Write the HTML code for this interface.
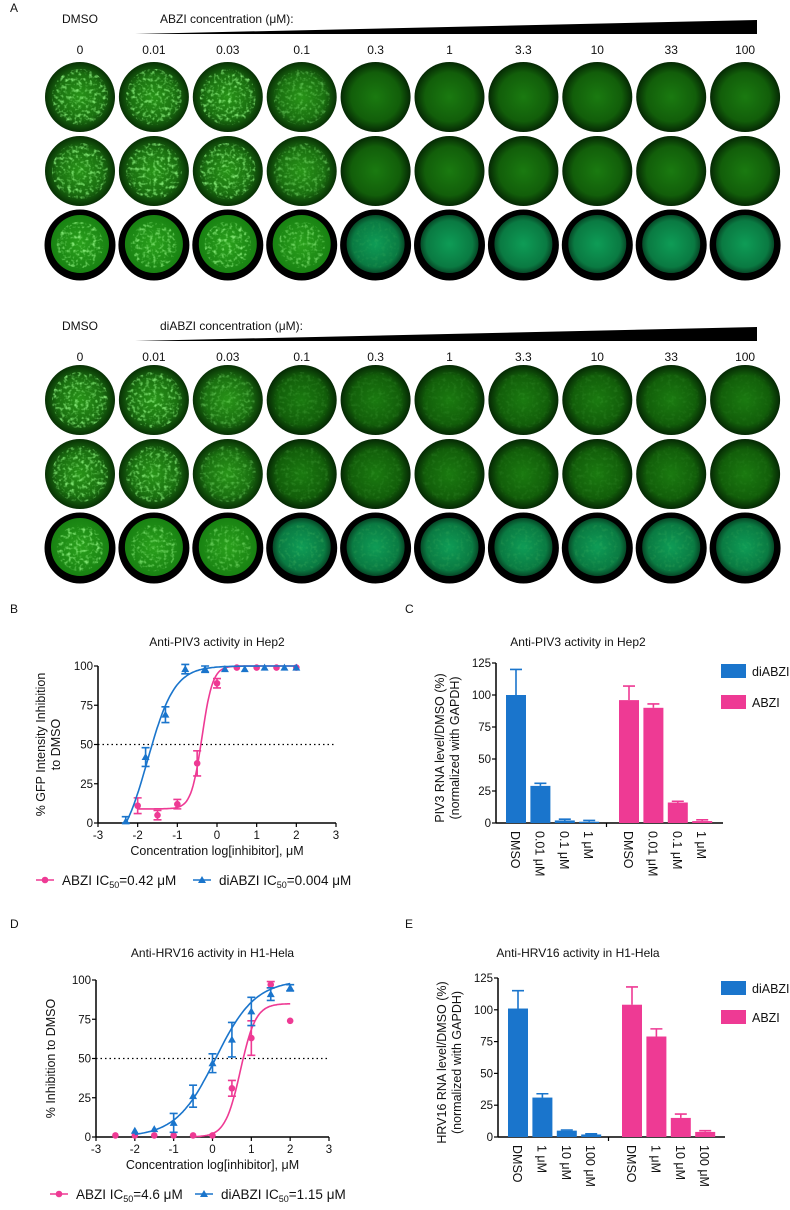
<!DOCTYPE html>
<html><head><meta charset="utf-8"><style>
body{margin:0;background:#fff}
svg text{font-family:"Liberation Sans",Arial,sans-serif;fill:#111}
</style></head><body>
<svg id="fig" width="790" height="1205" viewBox="0 0 790 1205" xmlns="http://www.w3.org/2000/svg">
<defs>
<filter id="speck" x="0" y="0" width="1" height="1">
<feTurbulence type="fractalNoise" baseFrequency="0.28" numOctaves="2" seed="3"/>
<feColorMatrix type="matrix" values="0 0 0 0 0.25  0 0 0 0 0.85  0 0 0 0 0.2  0 3.0 0 0 -1.45"/>
</filter>
<radialGradient id="gDark" cx="50%" cy="50%" r="50%"><stop offset="0" stop-color="#1a7a10"/><stop offset="0.7" stop-color="#125e0a"/><stop offset="1" stop-color="#052804"/></radialGradient>
<radialGradient id="gBright" cx="50%" cy="50%" r="50%"><stop offset="0" stop-color="#289418"/><stop offset="0.65" stop-color="#1a7010"/><stop offset="1" stop-color="#083005"/></radialGradient>
<radialGradient id="gTeal" cx="50%" cy="50%" r="50%"><stop offset="0" stop-color="#0e9c56"/><stop offset="0.8" stop-color="#0a7a42"/><stop offset="1" stop-color="#064a28"/></radialGradient>
<radialGradient id="gR3" cx="50%" cy="50%" r="50%"><stop offset="0" stop-color="#2aa01c"/><stop offset="1" stop-color="#188212"/></radialGradient>
</defs>
<g id="panelA"></g>
<g id="plots"></g>
</svg>
<script>
const NS='http://www.w3.org/2000/svg';
const svg=document.getElementById('fig');
const A=document.getElementById('panelA');
const P=document.getElementById('plots');
function el(tag,attrs,parent,txt){const e=document.createElementNS(NS,tag);for(const k in attrs)e.setAttribute(k,attrs[k]);if(txt!==undefined)e.textContent=txt;(parent||svg).appendChild(e);return e;}

// ---------- Panel A ----------
const concLabels=['0','0.01','0.03','0.1','0.3','1','3.3','10','33','100'];
const abziSpeck=[[0.9,0.9,0.9,0.5,0,0,0,0,0,0],[0.9,0.9,0.9,0.55,0,0,0,0,0,0],[0.9,0.9,0.9,0.7,0.1,0,0,0,0,0]];
const diabziSpeck=[[0.9,0.85,0.45,0.18,0.12,0.1,0.1,0.1,0.08,0.06],[0.9,0.8,0.45,0.18,0.12,0.1,0.08,0.1,0.08,0.06],[0.9,0.7,0.55,0.18,0.12,0.12,0.12,0.12,0.12,0.1]];
const colX=i=>80+i*73.9;
function block(y0,rowOff,drug,speck,blockName){
  let t;
  t=el('text',{x:80,y:y0+5,'text-anchor':'middle','font-size':12},A,'DMSO');
  
  t=el('text',{x:160,y:y0+5,'font-size':12},A,drug+' concentration (μM):');
  
  t=el('polygon',{points:`135,${y0+16} 757,${y0+16} 757,${y0+2}`,fill:'#000'},A);
  
  concLabels.forEach((c,i)=>{const l=el('text',{x:colX(i),y:y0+36,'text-anchor':'middle','font-size':12},A,c);
    });
  for(let r=0;r<3;r++){
    const cy=y0+rowOff+r*74;
    for(let i=0;i<10;i++){
      const cx=colX(i);const g=el('g',{},A);
      
      
      const s=speck[r][i];
      let rin=35;
      if(r===2){el('circle',{cx,cy,r:35.5,fill:'#000'},g);rin=29;}
      let fill = r===2 ? (s>0.4?'url(#gR3)':'url(#gTeal)') : (s>0.4?'url(#gBright)':'url(#gDark)');
      el('circle',{cx,cy:r===2?cy-1:cy,r:rin,fill},g);
      if(s>0){
        const id='c'+blockName+r+i;
        const cp=el('clipPath',{id},g);el('circle',{cx,cy,r:rin*0.8},cp);
        el('rect',{x:cx-rin,y:cy-rin,width:rin*2,height:rin*2,filter:'url(#speck)','clip-path':`url(#${id})`,opacity:s},g);
      }
    }
  }
}
el('text',{x:10,y:12,'font-size':12},A,'A');
block(18,79,'ABZI',abziSpeck,'abzi');
block(325,75,'diABZI',diabziSpeck,'diabzi');

// ---------- Colors ----------
const PINK='#ee3a94', BLUE='#1a75cc';

// ---------- Dose-response data ----------
// Panel B
const bAbziX=[-2,-1.5,-1,-0.5,0,0.5,1,1.5,2];
const bAbziY=[11,5,12,38,89,99,99,99,99];
const bAbziE=[5,3,3,8,3,1,1,1,1];
const bAbziFit=[9,100,-0.38,3.2]; // bottom, top, logIC50, hill
const bDiX=[-2.3,-1.8,-1.3,-0.8,-0.3,0.2,0.7,1.2,1.7,2];
const bDiY=[1,42,69,98,98,98,98,99,99,99];
const bDiE=[3,6,5,3,2,1,1,1,1,1];
const bDiFit=[-20,100,-1.75,1.28];
// Panel D
const dAbziX=[-2.5,-2,-1.5,-1,-0.5,0,0.5,1,1.5,2];
const dAbziY=[1,1,1,1,1,1,31,63,97,74];
const dAbziE=[0,0,0,0,0,0,5,11,2,0];
const dAbziFit=[0,85,0.72,2.2];
const dDiX=[-2,-1.5,-1,-0.5,0,0.5,1,1.5,2];
const dDiY=[4,5,9,26,47,62,80,91,95];
const dDiE=[1,1,6,7,6,11,9,4,2];
const dDiFit=[0,100,0.08,0.85];
const xTicks=[-3,-2,-1,0,1,2,3];
const yTicks=[0,25,50,75,100];

function doseChart(o){
  const g=el('g',{},P);
  const sx=v=>o.x0+(v+3)/6*(o.x1-o.x0);
  const sy=v=>o.y0-v/100*(o.y0-o.y100);
  let t=el('text',{x:10,y:o.letterY,'font-size':12},g,o.letter);
  
  t=el('text',{x:(o.x0+o.x1)/2,y:o.titleY,'text-anchor':'middle','font-size':12},g,o.title);
  
  el('line',{x1:o.x0,y1:o.y0,x2:o.x1,y2:o.y0,stroke:'#000','stroke-width':1.5},g);
  el('line',{x1:o.x0,y1:o.y0,x2:o.x0,y2:o.y100,stroke:'#000','stroke-width':1.5},g);
  xTicks.forEach(v=>{el('line',{x1:sx(v),y1:o.y0,x2:sx(v),y2:o.y0+4,stroke:'#000','stroke-width':1.2},g);
    const l=el('text',{x:sx(v),y:o.y0+16,'text-anchor':'middle','font-size':11.5},g,String(v));
    });
  yTicks.forEach(v=>{el('line',{x1:o.x0-4,y1:sy(v),x2:o.x0,y2:sy(v),stroke:'#000','stroke-width':1.2},g);
    const l=el('text',{x:o.x0-5,y:sy(v)+4,'text-anchor':'end','font-size':11.5},g,String(v));
    });
  t=el('text',{x:(o.x0+o.x1)/2,y:o.y0+32,'text-anchor':'middle','font-size':12.5},g,'Concentration log[inhibitor], μM');
  
  const yt=el('text',{transform:`translate(${o.ylx},${(o.y0+o.y100)/2}) rotate(-90)`,'text-anchor':'middle','font-size':12.5},g);
  
  o.ylab.forEach((s,i)=>el('tspan',{x:0,dy:i?15:0},yt,s));
  const d=el('line',{x1:o.x0,y1:sy(50),x2:o.x1,y2:sy(50),stroke:'#000','stroke-dasharray':'1.5,3','stroke-width':1.3},g);
  
  o.series.forEach(s=>{
    const sg=el('g',{},g);
    const [b,tp,ic,h]=s.fit;let pts=[];
    for(let k=0;k<=120;k++){const x=s.fx0+(s.fx1-s.fx0)*k/120;let y=b+(tp-b)/(1+Math.pow(10,(ic-x)*h));y=Math.max(y,0);pts.push(sx(x).toFixed(1)+','+sy(y).toFixed(1));}
    el('polyline',{points:pts.join(' '),fill:'none',stroke:s.color,'stroke-width':1.6},sg);
    s.x.forEach((xv,i)=>{
      const cx=sx(xv),cy=sy(s.y[i]),e=s.e[i];
      if(e>1){const ep=el('path',{d:`M${cx},${sy(s.y[i]+e)}V${sy(Math.max(s.y[i]-e,0))}M${cx-4},${sy(s.y[i]+e)}h8M${cx-4},${sy(Math.max(s.y[i]-e,0))}h8`,stroke:s.color,'stroke-width':1.6,fill:'none'},sg);
        }
      let m;
      if(s.marker==='circle')m=el('circle',{cx,cy,r:3.3,fill:s.color},sg);
      else m=el('polygon',{points:`${cx},${cy-4} ${cx-4},${cy+3} ${cx+4},${cy+3}`,fill:s.color},sg);
      
    });
  });
  o.legend.forEach(L=>{
    const lg=el('g',{},g);
    el('line',{x1:L.x,y1:o.legY-5,x2:L.x+18,y2:o.legY-5,stroke:L.color,'stroke-width':1.6},lg);
    if(L.marker==='circle')el('circle',{cx:L.x+9,cy:o.legY-5,r:3.3,fill:L.color},lg);
    else el('polygon',{points:`${L.x+9},${o.legY-9} ${L.x+5},${o.legY-2} ${L.x+13},${o.legY-2}`,fill:L.color},lg);
    const tx=el('text',{x:L.x+26,y:o.legY,'font-size':13.5},lg);
    el('tspan',{},tx,L.label+'  IC');el('tspan',{'font-size':9,dy:3},tx,'50');el('tspan',{dy:-3},tx,'='+L.val+' μM');
  });
}
doseChart({name:'panel-b-piv3-dose-response',letter:'B',letterY:613,title:'Anti-PIV3 activity in Hep2',titleY:646,
  x0:98,x1:336,y0:823,y100:666,ylx:45,ylab:['% GFP Intensity Inhibition','to DMSO'],legY:885,
  series:[{name:'b-abzi-series',color:PINK,marker:'circle',x:bAbziX,y:bAbziY,e:bAbziE,fit:bAbziFit,fx0:-2,fx1:2},
          {name:'b-diabzi-series',color:BLUE,marker:'tri',x:bDiX,y:bDiY,e:bDiE,fit:bDiFit,fx0:-2.3,fx1:2}],
  legend:[{name:'b-legend-abzi',x:36,color:PINK,marker:'circle',label:'ABZI',val:'0.42'},
          {name:'b-legend-diabzi',x:193,color:BLUE,marker:'tri',label:'diABZI ',val:'0.004'}]});
doseChart({name:'panel-d-hrv16-dose-response',letter:'D',letterY:928,title:'Anti-HRV16 activity in H1-Hela',titleY:957,
  x0:96,x1:329,y0:1137,y100:980,ylx:55,ylab:['% Inhibition to DMSO'],legY:1199,
  series:[{name:'d-abzi-series',color:PINK,marker:'circle',x:dAbziX,y:dAbziY,e:dAbziE,fit:dAbziFit,fx0:-0.5,fx1:2},
          {name:'d-diabzi-series',color:BLUE,marker:'tri',x:dDiX,y:dDiY,e:dDiE,fit:dDiFit,fx0:-2,fx1:2}],
  legend:[{name:'d-legend-abzi',x:50,color:PINK,marker:'circle',label:'ABZI',val:'4.6'},
          {name:'d-legend-diabzi',x:195,color:BLUE,marker:'tri',label:'diABZI ',val:'1.15'}]});

// ---------- Bar charts ----------
const cCats=['DMSO','0.01 μM','0.1 μM','1 μM'];
const cDi=[100,29,2,1];const cDiErr=[120,31,3,2];
const cAb=[96,90,16,1.5];const cAbErr=[107,93,17,2.5];
const eCats=['DMSO','1 μM','10 μM','100 μM'];
const eDi=[101,31,5,2];const eDiErr=[115,34,5.5,2.5];
const eAb=[104,79,15,4];const eAbErr=[118,85,18,5];
const barTicks=[0,25,50,75,100,125];

function barChart(o){
  const g=el('g',{},P);
  const sy=v=>o.y0-v/125*(o.y0-o.y125);
  let t=el('text',{x:405,y:o.letterY,'font-size':12},g,o.letter);
  
  t=el('text',{x:o.titleX,y:o.titleY,'text-anchor':'middle','font-size':12},g,o.title);
  
  el('line',{x1:o.x0,y1:o.y0,x2:o.x1,y2:o.y0,stroke:'#000','stroke-width':1.5},g);
  el('line',{x1:o.x0,y1:o.y0,x2:o.x0,y2:o.y125,stroke:'#000','stroke-width':1.5},g);
  el('line',{x1:(o.x0+o.x1)/2-3,y1:o.y0,x2:(o.x0+o.x1)/2-3,y2:o.y0+4,stroke:'#000','stroke-width':1.2},g);
  barTicks.forEach(v=>{el('line',{x1:o.x0-4,y1:sy(v),x2:o.x0,y2:sy(v),stroke:'#000','stroke-width':1.2},g);
    const l=el('text',{x:o.x0-5,y:sy(v)+4,'text-anchor':'end','font-size':11.5},g,String(v));
    });
  const yt=el('text',{transform:`translate(${o.ylx},${(o.y0+o.y125)/2+5}) rotate(-90)`,'text-anchor':'middle','font-size':12.5},g);
  
  el('tspan',{x:0,dy:0},yt,o.ylab);el('tspan',{x:0,dy:15},yt,'(normalized with GAPDH)');
  const groups=[{vals:o.di,err:o.diErr,color:BLUE,start:o.g1,n:'diabzi'},{vals:o.ab,err:o.abErr,color:PINK,start:o.g2,n:'abzi'}];
  groups.forEach(G=>{
    G.vals.forEach((v,i)=>{
      const x=G.start+i*24.4;
      const r=el('rect',{x,y:sy(v),width:20,height:o.y0-sy(v),fill:G.color},g);
      
      const e=el('path',{d:`M${x+10},${sy(v)}V${sy(G.err[i])}M${x+4},${sy(G.err[i])}h12`,stroke:G.color,'stroke-width':1.6,fill:'none'},g);
      
      const l=el('text',{transform:`translate(${x+5},${o.y0+8}) rotate(90)`,'font-size':12.5},g,o.cats[i]);
      
    });
  });
  [['diABZI',BLUE,o.legY1],['ABZI',PINK,o.legY2]].forEach(([lab,c,y])=>{
    const lg=el('g',{},g);
    el('rect',{x:721,y:y-7,width:25,height:14,fill:c},lg);
    el('text',{x:752,y:y+5,'font-size':12.5},lg,lab);
  });
}
barChart({name:'panel-c-piv3-rna',letter:'C',letterY:613,title:'Anti-PIV3 activity in Hep2',titleX:578,titleY:646,
  x0:496,x1:723,y0:823,y125:663,ylx:444,ylab:'PIV3 RNA level/DMSO (%)',g1:506,g2:619,legY1:671,legY2:702,
  cats:cCats,di:cDi,diErr:cDiErr,ab:cAb,abErr:cAbErr});
barChart({name:'panel-e-hrv16-rna',letter:'E',letterY:928,title:'Anti-HRV16 activity in H1-Hela',titleX:578,titleY:957,
  x0:498,x1:725,y0:1137,y125:978,ylx:446,ylab:'HRV16 RNA level/DMSO (%)',g1:508,g2:622,legY1:988,legY2:1017,
  cats:eCats,di:eDi,diErr:eDiErr,ab:eAb,abErr:eAbErr});
</script>
</body></html>
